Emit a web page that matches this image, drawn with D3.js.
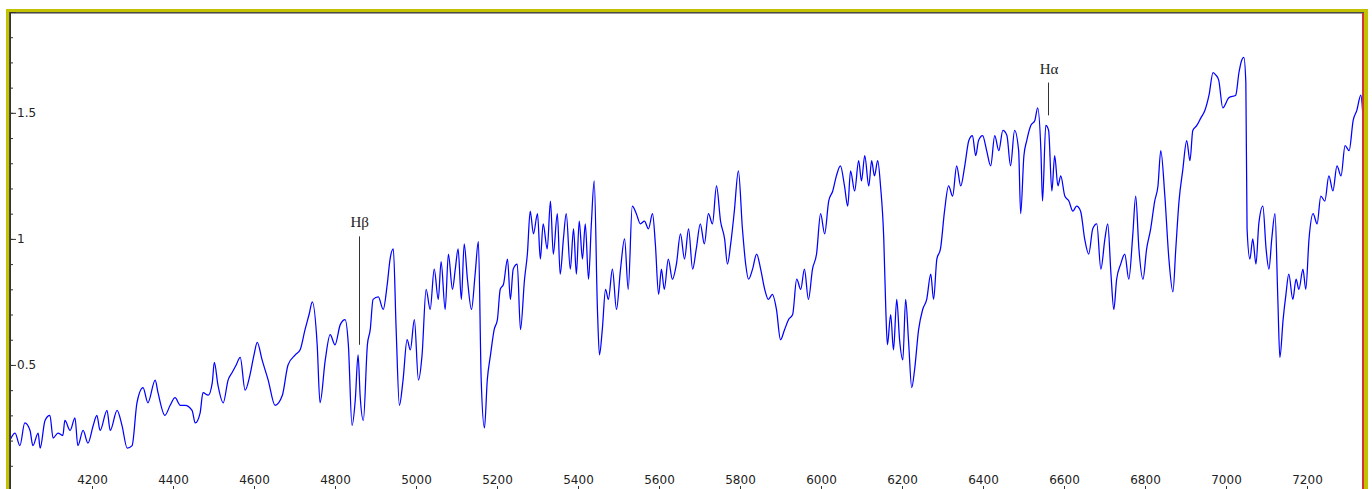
<!DOCTYPE html>
<html>
<head>
<meta charset="utf-8">
<script src="https://cdn.jsdelivr.net/npm/d3@7"></script>
<style>
  body { margin: 0; background: #fff; }
  svg { display: block; }
</style>
</head>
<body>
<svg class="chart"></svg>
<script>
// Wavelength (Angstrom) and relative flux
const wavelength = [
  3997, 4010, 4022, 4034, 4047, 4054, 4067, 4072, 4084, 4096, 4104, 4116, 4128, 4133, 4146, 4158, 4165, 4178, 4190, 4203,
  4212, 4220, 4237, 4245, 4262, 4274, 4287, 4299, 4311, 4326, 4338, 4356, 4363, 4380, 4393, 4405, 4418, 4430, 4447, 4455,
  4467, 4474, 4487, 4497, 4502, 4511, 4524, 4536, 4546, 4556, 4566, 4578, 4590, 4600, 4608, 4620, 4635, 4652, 4670, 4684,
  4702, 4714, 4726, 4736, 4744, 4756, 4763, 4776, 4788, 4800, 4813, 4825, 4833, 4842, 4850, 4857, 4862, 4870, 4880, 4887,
  4894, 4907, 4919, 4929, 4936, 4944, 4951, 4959, 4968, 4978, 4986, 4996, 5006, 5015, 5025, 5035, 5045, 5055, 5062, 5072,
  5080, 5090, 5097, 5104, 5112, 5119, 5127, 5137, 5146, 5154, 5161, 5169, 5176, 5184, 5193, 5201, 5208, 5216, 5226, 5233,
  5240, 5250, 5258, 5268, 5275, 5282, 5290, 5300, 5307, 5314, 5324, 5332, 5339, 5349, 5356, 5364, 5371, 5381, 5389, 5396,
  5403, 5411, 5418, 5426, 5433, 5440, 5448, 5453, 5460, 5468, 5475, 5485, 5495, 5505, 5515, 5524, 5534, 5544, 5554, 5564,
  5574, 5584, 5591, 5599, 5606, 5613, 5623, 5633, 5643, 5653, 5663, 5673, 5683, 5692, 5702, 5712, 5722, 5732, 5742, 5752,
  5762, 5769, 5777, 5786, 5796, 5806, 5814, 5821, 5831, 5841, 5851, 5861, 5870, 5880, 5890, 5900, 5910, 5920, 5930, 5940,
  5950, 5959, 5969, 5979, 5989, 5999, 6009, 6019, 6029, 6038, 6048, 6058, 6066, 6073, 6083, 6093, 6100, 6108, 6118, 6125,
  6132, 6140, 6147, 6155, 6160, 6164, 6172, 6179, 6187, 6194, 6202, 6209, 6216, 6224, 6231, 6241, 6251, 6261, 6271, 6278,
  6286, 6295, 6305, 6315, 6325, 6335, 6345, 6355, 6365, 6374, 6382, 6389, 6399, 6409, 6419, 6429, 6439, 6449, 6459, 6468,
  6478, 6488, 6493, 6501, 6508, 6518, 6528, 6535, 6543, 6547, 6555, 6562, 6570, 6577, 6585, 6592, 6602, 6612, 6622, 6631,
  6641, 6651, 6661, 6671, 6681, 6691, 6701, 6708, 6716, 6723, 6730, 6740, 6750, 6760, 6770, 6777, 6785, 6795, 6804, 6814,
  6824, 6832, 6839, 6849, 6859, 6869, 6876, 6884, 6893, 6903, 6911, 6918, 6928, 6938, 6948, 6958, 6968, 6975, 6982, 6992,
  7007, 7024, 7032, 7039, 7044, 7049, 7052, 7059, 7066, 7074, 7081, 7091, 7099, 7106, 7113, 7121, 7128, 7133, 7141, 7148,
  7155, 7165, 7173, 7180, 7190, 7197, 7205, 7215, 7225, 7234, 7244, 7254, 7264, 7274, 7284, 7294, 7304, 7314, 7323, 7333,
  7338
];
const flux = [
  0.20, 0.23, 0.18, 0.27, 0.24, 0.18, 0.23, 0.17, 0.28, 0.30, 0.21, 0.23, 0.22, 0.28, 0.24, 0.29, 0.18, 0.24, 0.19, 0.26,
  0.30, 0.24, 0.32, 0.24, 0.32, 0.26, 0.17, 0.18, 0.35, 0.41, 0.35, 0.44, 0.39, 0.30, 0.34, 0.37, 0.34, 0.34, 0.32, 0.27,
  0.31, 0.39, 0.38, 0.43, 0.51, 0.42, 0.35, 0.44, 0.47, 0.50, 0.53, 0.40, 0.46, 0.54, 0.59, 0.52, 0.44, 0.34, 0.38, 0.50,
  0.54, 0.56, 0.64, 0.70, 0.75, 0.58, 0.35, 0.52, 0.62, 0.58, 0.66, 0.68, 0.58, 0.26, 0.36, 0.54, 0.38, 0.28, 0.58, 0.64,
  0.76, 0.77, 0.72, 0.82, 0.92, 0.96, 0.64, 0.34, 0.44, 0.60, 0.56, 0.68, 0.44, 0.54, 0.80, 0.72, 0.88, 0.76, 0.91, 0.72,
  0.94, 0.80, 0.88, 0.96, 0.76, 0.98, 0.84, 0.72, 0.86, 0.99, 0.44, 0.25, 0.44, 0.54, 0.64, 0.68, 0.80, 0.82, 0.92, 0.76,
  0.88, 0.90, 0.64, 0.84, 0.94, 1.11, 1.02, 1.10, 0.92, 1.06, 0.96, 1.15, 0.94, 1.10, 0.86, 1.00, 1.10, 0.88, 1.04, 0.86,
  1.07, 0.92, 1.06, 0.84, 1.06, 1.23, 0.72, 0.54, 0.64, 0.80, 0.76, 0.88, 0.72, 0.88, 1.00, 0.80, 1.13, 1.10, 1.06, 1.07,
  1.04, 1.10, 0.98, 0.78, 0.88, 0.80, 0.92, 0.84, 0.90, 1.02, 0.92, 1.04, 0.88, 0.96, 1.06, 0.98, 1.10, 1.06, 1.21, 1.07,
  1.00, 0.90, 0.98, 1.11, 1.27, 1.04, 0.90, 0.84, 0.88, 0.94, 0.88, 0.80, 0.76, 0.78, 0.72, 0.60, 0.64, 0.68, 0.70, 0.84,
  0.80, 0.88, 0.76, 0.88, 0.94, 1.10, 1.02, 1.15, 1.19, 1.25, 1.29, 1.21, 1.13, 1.27, 1.19, 1.31, 1.23, 1.33, 1.21, 1.31,
  1.25, 1.31, 1.21, 1.00, 0.72, 0.58, 0.70, 0.56, 0.76, 0.60, 0.52, 0.76, 0.60, 0.41, 0.48, 0.64, 0.72, 0.76, 0.86, 0.76,
  0.92, 0.96, 1.11, 1.21, 1.17, 1.29, 1.21, 1.29, 1.39, 1.41, 1.33, 1.39, 1.41, 1.35, 1.29, 1.41, 1.35, 1.43, 1.41, 1.29,
  1.43, 1.35, 1.10, 1.33, 1.39, 1.45, 1.47, 1.52, 1.35, 1.15, 1.45, 1.43, 1.19, 1.33, 1.21, 1.25, 1.17, 1.15, 1.11, 1.13,
  1.11, 1.00, 0.94, 1.04, 1.06, 0.88, 1.00, 1.06, 0.86, 0.72, 0.84, 0.90, 0.94, 0.84, 1.02, 1.17, 0.96, 0.84, 0.96, 1.04,
  1.15, 1.21, 1.35, 1.17, 0.92, 0.79, 0.96, 1.15, 1.27, 1.39, 1.31, 1.43, 1.45, 1.48, 1.51, 1.57, 1.66, 1.65, 1.63, 1.52,
  1.56, 1.57, 1.66, 1.71, 1.72, 1.62, 1.04, 0.92, 1.00, 0.90, 1.06, 1.13, 0.96, 0.88, 1.00, 1.10, 0.76, 0.53, 0.68, 0.78,
  0.86, 0.76, 0.84, 0.80, 0.88, 0.80, 1.00, 1.10, 1.06, 1.17, 1.15, 1.25, 1.19, 1.29, 1.25, 1.37, 1.35, 1.47, 1.51, 1.57,
  1.49
];

const xTicks = [4200, 4400, 4600, 4800, 5000, 5200, 5400, 5600, 5800, 6000, 6200, 6400, 6600, 6800, 7000, 7200];
const yTicks = [0.5, 1, 1.5];
const yMinorTicks = [0.1, 0.2, 0.3, 0.4, 0.5, 0.6, 0.7, 0.8, 0.9, 1, 1.1, 1.2, 1.3, 1.4, 1.5, 1.6, 1.7, 1.8];

const lines = [
  { label: 'Hβ', wave: 4861, top: 1.01, bottom: 0.58 },
  { label: 'Hα', wave: 6563, top: 1.62, bottom: 1.49 }
];

const svgWidth = 1372;
const svgHeight = 489;
const plot = { left: 11, top: 14, right: 1362, bottom: 491 };

const svg = d3.select('.chart')
  .attr('width', svgWidth)
  .attr('height', svgHeight);

// Window frame: yellow outer band, dark inner edge, red right edge
svg.append('rect')
  .attr('x', 6).attr('y', 9)
  .attr('width', 1362).attr('height', 500)
  .attr('fill', '#c2c200');
svg.append('rect')
  .attr('x', 9).attr('y', 12)
  .attr('width', 1355).attr('height', 500)
  .attr('fill', '#4a4a4a');
svg.append('rect')
  .attr('x', 10).attr('y', 13)
  .attr('width', 1353).attr('height', 500)
  .attr('fill', '#9a9a9a');
svg.append('rect')
  .attr('x', plot.left).attr('y', plot.top)
  .attr('width', plot.right - plot.left).attr('height', 500)
  .attr('fill', '#fff');
svg.append('rect')
  .attr('x', 1362).attr('y', 13)
  .attr('width', 2).attr('height', 500)
  .attr('fill', '#d03434');

const xScale = d3.scaleLinear()
  .domain([4000, 7340])
  .range([11, 1363.7]);

const yScale = d3.scaleLinear()
  .domain([0, 1.9])
  .range([491, 12]);

svg.append('clipPath')
  .attr('id', 'clip')
  .append('rect')
  .attr('x', plot.left).attr('y', plot.top)
  .attr('width', plot.right - plot.left).attr('height', plot.bottom - plot.top);

const data = wavelength.map((w, i) => ({ w: w, f: flux[i] }));

const line = d3.line()
  .x(d => xScale(d.w))
  .y(d => yScale(d.f))
  .curve(d3.curveMonotoneX);

svg.append('path')
  .datum(data)
  .attr('clip-path', 'url(#clip)')
  .attr('fill', 'none')
  .attr('stroke', '#0000ff')
  .attr('stroke-width', 1.25)
  .attr('stroke-linejoin', 'round')
  .attr('d', line);

// Y axis on the left edge, ticks pointing into the plot
const yAxisGroup = svg.append('g')
  .attr('transform', 'translate(10,0)')
  .call(d3.axisRight(yScale).tickValues(yTicks).tickSize(6).tickPadding(1).tickFormat(d3.format('')));
svg.append('g')
  .attr('transform', 'translate(10,0)')
  .call(d3.axisRight(yScale).tickValues(yMinorTicks).tickSize(3).tickFormat(''))
  .select('.domain').remove();

yAxisGroup.select('.domain').attr('stroke', '#333');
svg.selectAll('.tick line').attr('stroke', '#333');
yAxisGroup.selectAll('text')
  .attr('fill', '#222')
  .attr('font-family', 'DejaVu Sans, Verdana, sans-serif')
  .attr('font-size', '12px');

// X axis sits just below the window, labels drawn above it
const xAxisGroup = svg.append('g')
  .attr('transform', 'translate(0,490)')
  .call(d3.axisTop(xScale).tickValues(xTicks).tickSize(4).tickPadding(2).tickFormat(d3.format('d')));

xAxisGroup.select('.domain').remove();
xAxisGroup.selectAll('line').attr('stroke', '#333');
xAxisGroup.selectAll('text')
  .attr('fill', '#222')
  .attr('font-family', 'DejaVu Sans, Verdana, sans-serif')
  .attr('font-size', '12px');

// Line identifications
const marks = svg.selectAll('.mark')
  .data(lines)
  .enter()
  .append('g')
  .attr('class', 'mark');

marks.append('line')
  .attr('x1', d => Math.round(xScale(d.wave)) - 0.5)
  .attr('x2', d => Math.round(xScale(d.wave)) - 0.5)
  .attr('y1', d => yScale(d.top))
  .attr('y2', d => yScale(d.bottom))
  .attr('stroke', '#333')
  .attr('stroke-width', 1);

marks.append('text')
  .attr('x', d => xScale(d.wave))
  .attr('y', d => yScale(d.top) - 9)
  .attr('text-anchor', 'middle')
  .attr('fill', '#222')
  .attr('font-family', 'Liberation Serif, Times New Roman, serif')
  .attr('font-size', '15px')
  .text(d => d.label);
</script>
</body>
</html>
